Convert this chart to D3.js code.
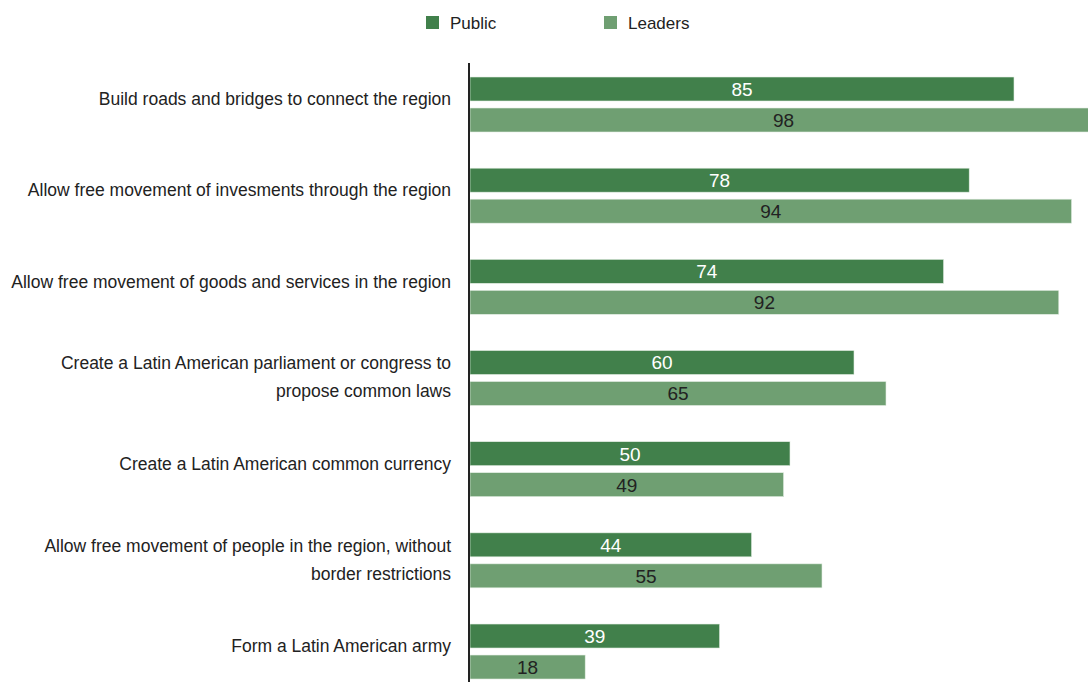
<!DOCTYPE html>
<html>
<head>
<meta charset="utf-8">
<script src="https://cdn.jsdelivr.net/npm/d3@7"></script>
<style>
  html, body { margin: 0; padding: 0; background: #ffffff; }
  svg { display: block; font-family: "Liberation Sans", Arial, sans-serif; }
</style>
</head>
<body>
<svg id="chart" width="1088" height="682"></svg>
<script>
// Support for Latin American integration measures (%)
const categories = [
  ["Build roads and bridges to connect the region"],
  ["Allow free movement of invesments through the region"],
  ["Allow free movement of goods and services in the region"],
  ["Create a Latin American parliament or congress to", "propose common laws"],
  ["Create a Latin American common currency"],
  ["Allow free movement of people in the region, without", "border restrictions"],
  ["Form a Latin American army"]
];
const seriesNames = ["Public", "Leaders"];
const publicValues = [85, 78, 74, 60, 50, 44, 39];
const leadersValues = [98, 94, 92, 65, 49, 55, 18];

const colors = { Public: "#41804b", Leaders: "#6f9f72" };
const labelColors = { Public: "#ffffff", Leaders: "#222222" };

const svg = d3.select("#chart");
const keys = categories.map((c, i) => i);
const rows = keys.map(i => ({
  key: i,
  lines: categories[i],
  values: [
    { series: "Public", value: publicValues[i] },
    { series: "Leaders", value: leadersValues[i] }
  ]
}));

const x = d3.scaleLinear().domain([0, 100]).range([470, 1110]);
const y = d3.scaleBand().domain(keys).range([65, 65 + 7 * 91.17]).padding(0);
const ySeries = d3.scaleBand().domain(seriesNames).range([12, 67]).paddingInner(7 / 31);

// Bars
const groups = svg.append("g").selectAll("g")
  .data(rows).join("g")
  .attr("transform", d => `translate(0,${y(d.key)})`);

groups.selectAll("rect")
  .data(d => d.values).join("rect")
  .attr("x", x(0))
  .attr("y", d => ySeries(d.series))
  .attr("width", d => x(d.value) - x(0))
  .attr("height", ySeries.bandwidth())
  .attr("fill", d => colors[d.series])
  .attr("stroke", "#e4efe4")
  .attr("stroke-width", 0.6);

// Value labels centred on each bar
groups.selectAll("text.value")
  .data(d => d.values).join("text")
  .attr("class", "value")
  .attr("x", d => (x(0) + x(d.value)) / 2)
  .attr("y", d => ySeries(d.series) + ySeries.bandwidth() / 2)
  .attr("dy", "0.36em")
  .attr("text-anchor", "middle")
  .attr("font-size", 19)
  .attr("fill", d => labelColors[d.series])
  .text(d => d.value);

// Category labels, right aligned against the axis
const lineGap = 28;
groups.append("text")
  .attr("class", "cat")
  .attr("text-anchor", "end")
  .attr("font-size", 17.5)
  .attr("fill", "#222222")
  .each(function (d) {
    const t = d3.select(this);
    const n = d.lines.length;
    const cy = (n === 1) ? 34 : 38.5;
    d.lines.forEach((line, j) => {
      t.append("tspan")
        .attr("x", 451)
        .attr("y", cy + (j - (n - 1) / 2) * lineGap)
        .attr("dy", "0.36em")
        .text(line);
    });
  });

// Vertical axis line
const axis = d3.axisLeft(y).tickSize(0).tickFormat("");
svg.append("g")
  .attr("transform", `translate(${x(0) - 1},0)`)
  .call(axis)
  .call(g => g.select(".domain")
    .attr("d", `M0,63V${65 + 7 * 91.17}`)
    .attr("stroke", "#222222")
    .attr("stroke-width", 2));

// Legend
const legendX = { Public: 426, Leaders: 604 };
const legend = svg.append("g").selectAll("g")
  .data(seriesNames).join("g")
  .attr("transform", d => `translate(${legendX[d]},16)`);
legend.append("rect")
  .attr("width", 13).attr("height", 13)
  .attr("fill", d => colors[d]);
legend.append("text")
  .attr("x", 24).attr("y", 6.5).attr("dy", "0.36em")
  .attr("font-size", 17).attr("fill", "#222222")
  .text(d => d);
</script>
</body>
</html>
